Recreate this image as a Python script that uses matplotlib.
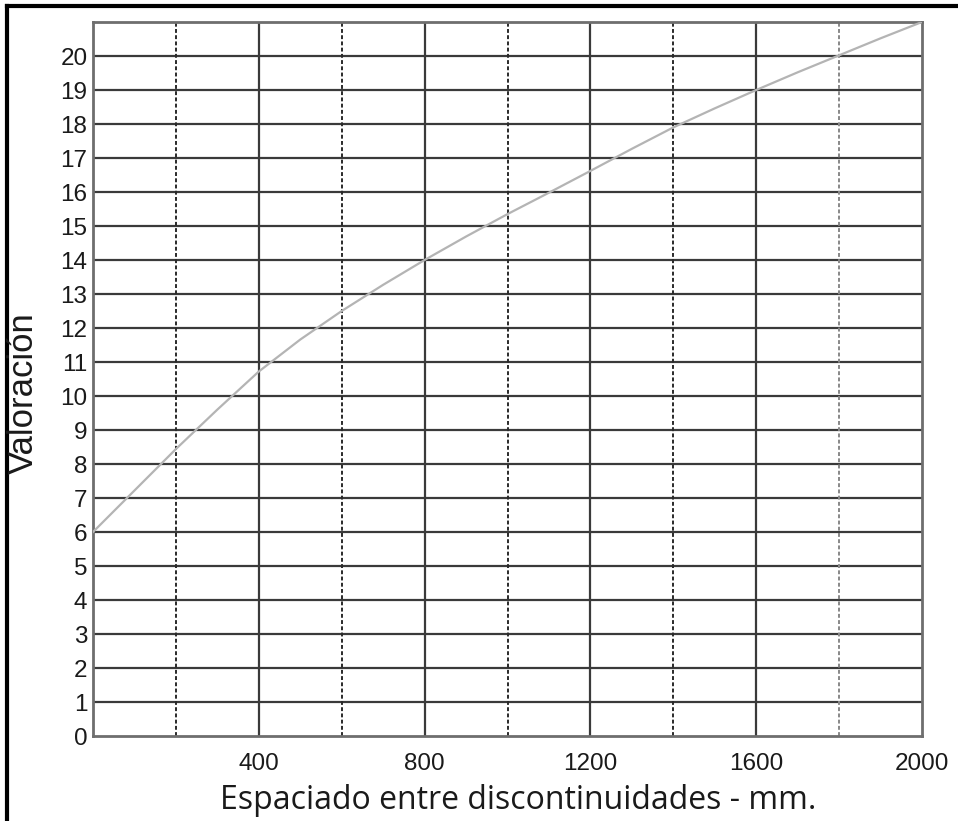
import matplotlib
matplotlib.use("Agg")
import matplotlib.pyplot as plt
from matplotlib.lines import Line2D

# Data (curve points)
espaciado = [0, 100, 200, 300, 400, 500, 600, 700, 800, 900, 1000,
             1100, 1200, 1300, 1400, 1500, 1600, 1700, 1800, 1900, 2000]
valoracion = [6.0, 7.22, 8.44, 9.6, 10.72, 11.66, 12.5, 13.27, 14.0, 14.69, 15.35,
              15.98, 16.62, 17.27, 17.9, 18.46, 19.0, 19.52, 20.02, 20.52, 21.0]
x_major = [400, 800, 1200, 1600, 2000]
x_minor = [200, 600, 1000, 1400, 1800]
y_ticks = list(range(0, 21))

fig = plt.figure(figsize=(9.58, 8.21), dpi=100)
ax = fig.add_axes([93/958, 1-736/821, (922-93)/958, (736-22)/821])

ax.set_xlim(0, 2000)
ax.set_ylim(0, 21)

# grid lines
for yv in y_ticks[1:]:
    ax.axhline(yv, color="#3a3a3a", lw=1.6, zorder=1)
for xv in x_major[:-1]:
    ax.axvline(xv, color="#3a3a3a", lw=1.6, zorder=1)
for xv in x_minor:
    col = "#888888" if xv == 1800 else "#2a2a2a"
    ax.axvline(xv, color=col, lw=1.4, ls=(0, (2, 1.2)), zorder=1)

ax.plot(espaciado, valoracion, color="#b4b4b4", lw=1.6, zorder=3)

ax.set_xticks(x_major)
ax.set_yticks(y_ticks)
ax.tick_params(length=0)
ax.tick_params(axis="y", pad=4)
ax.tick_params(axis="x", pad=12)
for lab in ax.get_xticklabels() + ax.get_yticklabels():
    lab.set_fontfamily("Liberation Sans")
    lab.set_fontsize(17.5)
    lab.set_color("#1a1a1a")

for s in ax.spines.values():
    s.set_color("#6e6e6e")
    s.set_linewidth(2)

ax.set_ylabel("Valoración", family="Liberation Sans", fontsize=25, color="#1a1a1a")
ax.yaxis.set_label_coords(-53/829, 0.48)

fig.text(518/958, 1-800/821, "Espaciado entre discontinuidades - mm.",
         family="Open Sans", fontsize=23, color="#1a1a1a", ha="center", va="center")

# outer frame (left and top edges)
fig.add_artist(Line2D([7/958, 7/958], [0, 1-6/821], transform=fig.transFigure,
                      color="black", lw=3, zorder=0))
fig.add_artist(Line2D([7/958, 1], [1-6/821, 1-6/821], transform=fig.transFigure,
                      color="black", lw=3, zorder=0))

fig.savefig("out.png", dpi=100)
